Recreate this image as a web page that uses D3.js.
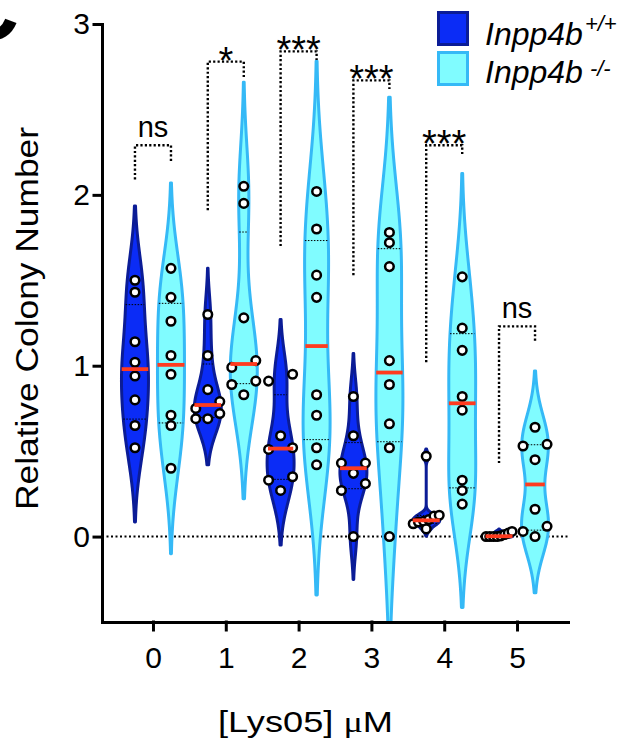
<!DOCTYPE html>
<html>
<head>
<meta charset="utf-8">
<script src="https://cdn.jsdelivr.net/npm/d3@7"></script>
<style>
  body { margin: 0; background: #fff; }
  text { font-family: "Liberation Sans", Arial, sans-serif; }
</style>
</head>
<body>
<svg width="633" height="747"></svg>
<script>
// data
var doses = ["0", "1", "2", "3", "4", "5"];
var genotypes = ["wt", "ko"];
var wt = [
  [1.50, 1.43, 1.14, 1.02, 0.94, 0.80, 0.65, 0.52],
  [1.30, 1.06, 0.86, 0.79, 0.75, 0.72, 0.69, 0.69],
  [0.95, 0.91, 0.59, 0.52, 0.51, 0.35, 0.33, 0.27],
  [0.82, 0.59, 0.43, 0.43, 0.37, 0.31, 0.27, 0.00],
  [0.47, 0.125, 0.12, 0.10, 0.09, 0.085, 0.075, 0.045],
  [0.03, 0.02, 0.012, 0.004, 0.0, 0.0, 0.0, 0.0]
];
var ko = [
  [1.57, 1.40, 1.26, 1.06, 0.95, 0.71, 0.65, 0.40],
  [2.05, 1.95, 1.28, 1.03, 0.99, 0.91, 0.89, 0.83],
  [2.02, 1.80, 1.53, 1.40, 0.83, 0.71, 0.52, 0.42],
  [1.78, 1.72, 1.58, 1.03, 0.89, 0.66, 0.52, 0.00],
  [1.52, 1.22, 1.09, 0.82, 0.74, 0.33, 0.27, 0.19],
  [0.64, 0.54, 0.53, 0.45, 0.16, 0.06, 0.03, 0.00]
];
var sigLabels = ["ns", "*", "***", "***", "***", "ns"];
var bracketTop = [2.29, 2.78, 2.84, 2.67, 2.29, 1.23];
var bracketLeft = [2.09, 1.91, 1.70, 1.53, 1.02, 0.43];
var bracketRight = [2.19, 2.69, 2.79, 2.62, 2.23, 1.14];
var yTicks = [0, 1, 2, 3];
var legendSup = ["+/+", "-/-"];

var svg = d3.select("svg");

var x = d3.scalePoint().domain(doses).range([102, 568]).padding(0.7);
var side = d3.scalePoint().domain(genotypes).range([-18, 18]);
var y = d3.scaleLinear().domain([-0.5, 3]).range([622, 24]);

var fills = { wt: "#0b2cf6", ko: "#80fcff" };
var strokes = { wt: "#0b1c96", ko: "#35b9f6" };

// prism style quantile (R-6)
function q6(s, p) {
  var h = (s.length + 1) * p - 1;
  if (h <= 0) return s[0];
  if (h >= s.length - 1) return s[s.length - 1];
  var lo = Math.floor(h);
  return s[lo] + (h - lo) * (s[lo + 1] - s[lo]);
}

svg.append("clipPath").attr("id", "plot")
  .append("rect").attr("x", 0).attr("y", 0).attr("width", 633).attr("height", 622);

// zero line
svg.append("line")
  .attr("x1", 102).attr("x2", 568)
  .attr("y1", y(0)).attr("y2", y(0))
  .attr("stroke", "#000").attr("stroke-width", 2)
  .attr("stroke-dasharray", "2,2.5");

var groups = [];
doses.forEach(function(d, i) {
  groups.push({ dose: d, g: "wt", values: wt[i] });
  groups.push({ dose: d, g: "ko", values: ko[i] });
});

var plot = svg.append("g");

groups.forEach(function(gr) {
  var s = gr.values.slice().sort(d3.ascending);
  var n = s.length;
  var cx = x(gr.dose) + side(gr.g);
  var sd = d3.deviation(s);
  var iqr = q6(s, 0.75) - q6(s, 0.25);
  var bw = 0.9 * Math.min(sd, iqr / 1.34 || sd) * Math.pow(n, -0.2);
  var lo = s[0] - 2.1 * bw, hi = s[n - 1] + 2.1 * bw;
  var dens = function(t) {
    return d3.sum(s, function(v) { return Math.exp(-0.5 * Math.pow((t - v) / bw, 2)); });
  };
  var ts = d3.range(0, 161).map(function(k) { return lo + (hi - lo) * k / 160; });
  var dmax = d3.max(ts, dens);
  var w = d3.scaleLinear().domain([0, dmax]).range([0, 13.5]);

  var area = d3.area()
    .x0(function(t) { return cx - w(dens(t)); })
    .x1(function(t) { return cx + w(dens(t)); })
    .y(function(t) { return y(t); })
    .curve(d3.curveBasis);

  var g = plot.append("g");
  g.append("path")
    .attr("d", area(ts))
    .attr("clip-path", "url(#plot)")
    .attr("fill", fills[gr.g])
    .attr("stroke", strokes[gr.g])
    .attr("stroke-width", 3)
    .attr("stroke-linejoin", "round");

  [0.25, 0.75].forEach(function(p) {
    var qv = q6(s, p);
    g.append("line")
      .attr("x1", cx - w(dens(qv))).attr("x2", cx + w(dens(qv)))
      .attr("y1", y(qv)).attr("y2", y(qv))
      .attr("stroke", "#000").attr("stroke-width", 1)
      .attr("stroke-dasharray", "1.5,1.5");
  });

  // rows of nearby points spread sideways
  var desc = gr.values.slice().sort(d3.descending);
  var rows = [];
  desc.forEach(function(v) {
    var last = rows[rows.length - 1];
    if (last && Math.abs(y(v) - y(last[0])) < 9) last.push(v);
    else rows.push([v]);
  });
  var pts = [];
  rows.forEach(function(r) {
    r.sort(d3.ascending);
    var k = r.length;
    var step = k === 2 ? 24 : 12;
    if (k > 1) step = Math.min(step, 26 / (k - 1));
    r.forEach(function(v, j) {
      pts.push({ v: v, dx: (j - (k - 1) / 2) * step });
    });
  });
  g.selectAll("circle").data(pts).enter().append("circle")
    .attr("cx", function(p) { return cx + p.dx; })
    .attr("cy", function(p) { return y(p.v); })
    .attr("r", 4.3)
    .attr("fill", "#fff")
    .attr("stroke", "#000")
    .attr("stroke-width", 2.5);

  var med = d3.median(s);
  g.append("line")
    .attr("x1", cx - w(dens(med))).attr("x2", cx + w(dens(med)))
    .attr("y1", y(med)).attr("y2", y(med))
    .attr("stroke", "#ff3b1f").attr("stroke-width", 3.8);
});

// axes
var yAxis = svg.append("g")
  .attr("transform", "translate(102,0)")
  .call(d3.axisLeft(y).tickValues(yTicks).tickSize(8).tickSizeOuter(0)
    .tickPadding(4).tickFormat(d3.format("d")));
var xAxis = svg.append("g")
  .attr("transform", "translate(0,622)")
  .call(d3.axisBottom(x).tickSize(8).tickSizeOuter(0).tickPadding(17));
[yAxis, xAxis].forEach(function(a) {
  a.attr("font-size", 30).attr("font-family", "Liberation Sans, Arial, sans-serif");
  a.selectAll("path, line").attr("stroke", "#000").attr("stroke-width", 3)
    .attr("stroke-linecap", "square");
  a.selectAll("text").attr("fill", "#000");
});

// significance brackets
doses.forEach(function(d, i) {
  var xl = x(d) + side("wt"), xr = x(d) + side("ko");
  svg.append("path")
    .attr("d", "M" + xl + "," + y(bracketLeft[i]) + "V" + y(bracketTop[i]) +
      "H" + xr + "V" + y(bracketRight[i]))
    .attr("fill", "none")
    .attr("stroke", "#000").attr("stroke-width", 2.4)
    .attr("stroke-dasharray", "2.2,2.2");
  var star = sigLabels[i] !== "ns";
  svg.append("text")
    .attr("x", x(d))
    .attr("y", y(bracketTop[i]) + (star ? 12 : -8))
    .attr("text-anchor", "middle")
    .attr("font-size", star ? 38 : 29)
    .text(sigLabels[i]);
});

// axis titles
svg.append("text")
  .attr("transform", "translate(38,318.5) rotate(-90)")
  .attr("text-anchor", "middle")
  .attr("font-size", 32)
  .attr("textLength", 383)
  .attr("lengthAdjust", "spacingAndGlyphs")
  .text("Relative Colony Number");

var xt = svg.append("text")
  .attr("x", 305.5).attr("y", 732)
  .attr("text-anchor", "middle")
  .attr("font-size", 30)
  .attr("textLength", 175)
  .attr("lengthAdjust", "spacingAndGlyphs");
xt.append("tspan").text("[Lys05] ");
xt.append("tspan").style("font-family", "Liberation Serif, serif").text("\u03bc");
xt.append("tspan").text("M");

// legend
genotypes.forEach(function(g, i) {
  svg.append("rect")
    .attr("x", 438.5).attr("y", 12.5 + i * 40)
    .attr("width", 29).attr("height", 32)
    .attr("fill", fills[g]).attr("stroke", strokes[g]).attr("stroke-width", 3);
  var t = svg.append("text")
    .attr("x", 485).attr("y", 45 + i * 38)
    .attr("font-size", 32)
    .attr("font-style", "italic")
    .text("Inpp4b");
  t.append("tspan")
    .attr("dx", i === 0 ? 2 : 7)
    .attr("dy", i === 0 ? -14 : -7)
    .attr("font-size", 22)
    .text(legendSup[i]);
});

// panel letter, cut off at the corner as in the source figure
svg.append("text")
  .attr("x", -46).attr("y", 40)
  .attr("font-size", 90)
  .attr("font-weight", "bold")
  .text("C");
</script>
</body>
</html>
